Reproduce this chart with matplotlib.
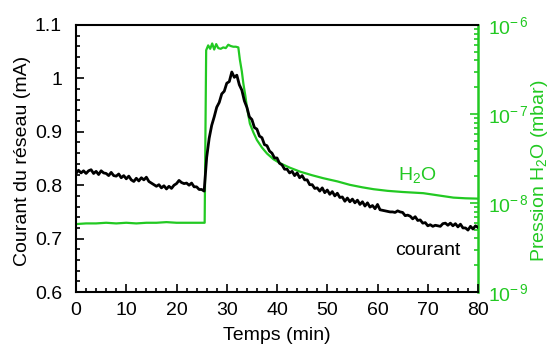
import numpy as np
import matplotlib.pyplot as plt
from matplotlib.ticker import MultipleLocator, LogLocator, FixedLocator, NullFormatter

plt.rcParams['font.family'] = ['Liberation Sans', 'DejaVu Sans']
plt.rcParams['mathtext.fontset'] = 'custom'
plt.rcParams['mathtext.rm'] = 'Liberation Sans'
plt.rcParams['mathtext.it'] = 'Liberation Sans'

vert = '#22c922'

# Courant du réseau (mA), un point toutes les 0.5 min de 0 à 80
temps_courant = np.arange(0, 80.5, 0.5)
courant = [
    0.822, 0.828, 0.823, 0.827, 0.822, 0.827, 0.829, 0.822, 0.826, 0.820,
    0.827, 0.823, 0.822, 0.818, 0.824, 0.818, 0.817, 0.821, 0.814, 0.818,
    0.812, 0.817, 0.810, 0.807, 0.813, 0.808, 0.814, 0.810, 0.815, 0.807,
    0.804, 0.801, 0.798, 0.801, 0.795, 0.799, 0.793, 0.798, 0.794, 0.800,
    0.803, 0.809, 0.805, 0.803, 0.804, 0.800, 0.804, 0.797, 0.797, 0.792,
    0.792, 0.789, 0.852, 0.888, 0.912, 0.928, 0.946, 0.955, 0.971, 0.976,
    0.991, 0.994, 1.012, 1.002, 1.006, 0.988, 0.978, 0.958, 0.946, 0.928,
    0.923, 0.908, 0.905, 0.892, 0.889, 0.876, 0.874, 0.864, 0.860, 0.851,
    0.851, 0.841, 0.838, 0.830, 0.830, 0.823, 0.826, 0.818, 0.823, 0.814,
    0.818, 0.810, 0.810, 0.801, 0.801, 0.794, 0.795, 0.789, 0.795, 0.786,
    0.791, 0.783, 0.788, 0.780, 0.785, 0.777, 0.778, 0.770, 0.776, 0.769,
    0.774, 0.767, 0.772, 0.764, 0.769, 0.761, 0.767, 0.759, 0.762, 0.756,
    0.764, 0.754, 0.753, 0.752, 0.751, 0.750, 0.750, 0.749, 0.752, 0.750,
    0.749, 0.743, 0.744, 0.742, 0.737, 0.741, 0.734, 0.735, 0.729, 0.730,
    0.724, 0.726, 0.723, 0.725, 0.724, 0.723, 0.728, 0.729, 0.725, 0.729,
    0.724, 0.728, 0.722, 0.727, 0.720, 0.720, 0.716, 0.723, 0.718, 0.724,
    0.721,
]

# Pression H2O (mbar)
temps_h2o = [0, 2, 4, 6, 8, 10, 12, 14, 16, 18, 20, 22, 24, 25.6,
             25.9, 26.3, 26.7, 27.1, 27.5, 27.9, 28.3, 28.8, 29.3, 29.8, 30.3,
             30.8, 31.3, 31.8, 32.3, 32.6, 33.0, 33.3, 33.7, 34.0, 34.6, 35.3,
             36.0, 37.0, 38.0, 39.3, 40.6, 42.5, 44.6, 47.0, 49.2, 52.0, 54.5,
             57.0, 59.2, 62.0, 65.0, 69.1, 72.0, 75.1, 77.5, 80.0]
pression_h2o = [5.8e-9, 5.9e-9, 5.9e-9, 6.0e-9, 5.9e-9, 6.0e-9, 5.9e-9, 6.0e-9,
                6.0e-9, 6.1e-9, 6.0e-9, 6.0e-9, 6.0e-9, 6.0e-9,
                5.2e-7, 5.9e-7, 5.4e-7, 6.2e-7, 5.3e-7, 6.1e-7, 5.5e-7, 5.4e-7,
                5.6e-7, 5.5e-7, 6.0e-7, 5.8e-7, 5.7e-7, 5.7e-7, 5.6e-7, 4.1e-7,
                3.0e-7, 2.2e-7, 1.6e-7, 1.2e-7, 7.8e-8, 6.2e-8,
                5.1e-8, 4.2e-8, 3.6e-8, 3.1e-8, 2.8e-8, 2.5e-8, 2.25e-8, 2.05e-8,
                1.9e-8, 1.75e-8, 1.6e-8, 1.5e-8, 1.43e-8, 1.37e-8, 1.33e-8,
                1.29e-8, 1.22e-8, 1.15e-8, 1.13e-8, 1.12e-8]

fig = plt.figure(figsize=(5.52, 3.51), dpi=100)
ax = fig.add_axes([0.1377, 0.168, 0.7283, 0.7608])
ax2 = ax.twinx()

ax2.plot(temps_h2o, pression_h2o, color=vert, lw=1.6)
ax.plot(temps_courant, courant, color='black', lw=2.0)
ax.set_zorder(ax2.get_zorder() + 1)
ax.patch.set_visible(False)

ax.set_xlim(0, 80)
ax.set_ylim(0.6, 1.1)
ax2.set_yscale('log')
ax2.set_ylim(1e-9, 1e-6)

ax.xaxis.set_major_locator(MultipleLocator(10))
ax.xaxis.set_minor_locator(MultipleLocator(2))
ax.yaxis.set_minor_locator(MultipleLocator(0.02))
ax.set_yticks([0.6, 0.7, 0.8, 0.9, 1.0, 1.1])
ax.set_yticklabels(['0.6', '0.7', '0.8', '0.9', '1', '1.1'])

ax.tick_params(axis='both', which='both', direction='in', labelsize=14,
               top=False, right=False, width=1.2)
ax.tick_params(axis='both', which='major', length=6)
ax.tick_params(axis='both', which='minor', length=3)
ax.tick_params(axis='x', pad=7)
ax.tick_params(axis='y', pad=10)

ax2.yaxis.set_major_locator(FixedLocator([1e-9, 1e-8, 1e-7, 1e-6]))
ax2.yaxis.set_minor_locator(LogLocator(base=10, subs=np.arange(2, 10)))
ax2.yaxis.set_minor_formatter(NullFormatter())
ax2.set_yticklabels([r'$\mathregular{10^{-\,9}}$', r'$\mathregular{10^{-\,8}}$',
                     r'$\mathregular{10^{-\,7}}$', r'$\mathregular{10^{-\,6}}$'])
ax2.tick_params(axis='y', which='both', direction='in', colors=vert,
                labelsize=14, width=1.2, pad=7)
ax2.tick_params(axis='y', which='major', length=6)
ax2.tick_params(axis='y', which='minor', length=3)

for s in ['left', 'bottom', 'top']:
    ax2.spines[s].set_linewidth(1.5)
ax2.spines['right'].set_color(vert)
ax2.spines['right'].set_linewidth(1.8)
for s in ax.spines.values():
    s.set_visible(False)

# titres des axes places a la main
fig.text(277 / 552, 1 - 336 / 351, 'Temps (min)', fontsize=14,
         ha='center', va='center')
fig.text(23 / 552, 1 - 161 / 351, 'Courant du réseau (mA)', fontsize=14,
         rotation=90, ha='center', va='center')
fig.text(540 / 552, 1 - 171 / 351, 'Pression H$_2$O (mbar)', fontsize=14,
         color=vert, rotation=90, ha='center', va='center')

ax.text(68, 0.819, 'H$_2$O', color=vert, fontsize=14, ha='center', va='center')
ax.text(70, 0.677, 'courant', color='black', fontsize=14, ha='center', va='center')

fig.savefig('out.png', dpi=100)
